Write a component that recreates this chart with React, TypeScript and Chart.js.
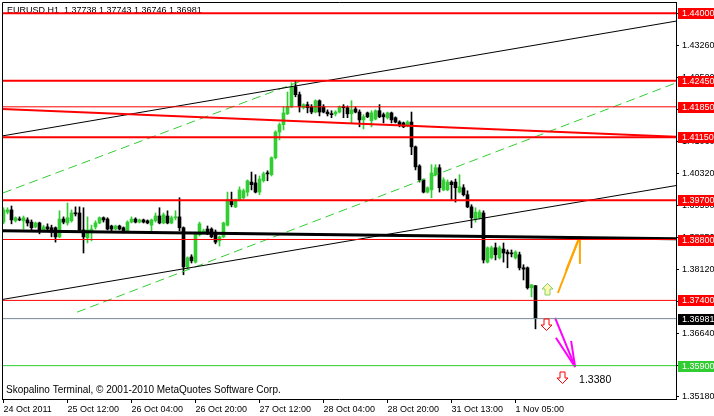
import React, { useEffect, useRef } from "react";
import { Chart, registerables } from "chart.js";
Chart.register(...registerables);

const symbolTitle = "EURUSD,H1  1.37738 1.37743 1.36746 1.36981";
const copyright = "Skopalino Terminal, \u00A9 2001-2010 MetaQuotes Software Corp.";

const xTickIndex = [0, 16, 32, 48, 64, 80, 96, 112, 128];
const xTickLabels = ["24 Oct 2011", "25 Oct 12:00", "26 Oct 04:00", "26 Oct 20:00", "27 Oct 12:00", "28 Oct 04:00", "28 Oct 20:00", "31 Oct 13:00", "1 Nov 05:00"];
const yTickLabels = ["1.35180", "1.35910", "1.36640", "1.37380", "1.38120", "1.38850", "1.39590", "1.40320", "1.41060", "1.41790", "1.42520", "1.43260", "1.43990"];

const opens = [
  1.3920, 1.3943, 1.3948, 1.3923, 1.3927, 1.3923, 1.3925, 1.3920, 1.3909, 1.3918,
  1.3902, 1.3909, 1.3907, 1.3907, 1.3886, 1.3927, 1.3918, 1.3923, 1.3941, 1.3941,
  1.3902, 1.3884, 1.3897, 1.3909, 1.3918, 1.3930, 1.3927, 1.3911, 1.3904, 1.3911,
  1.3907, 1.3900, 1.3920, 1.3927, 1.3920, 1.3925, 1.3923, 1.3913, 1.3923, 1.3934,
  1.3918, 1.3934, 1.3918, 1.3930, 1.3932, 1.3907, 1.3817, 1.3840, 1.3828, 1.3891,
  1.3895, 1.3904, 1.3904, 1.3897, 1.3877, 1.3886, 1.3913, 1.3971, 1.3955, 1.3971,
  1.3976, 1.3989, 1.4012, 1.4010, 1.3989, 1.4015, 1.4033, 1.4029, 1.4068, 1.4127,
  1.4144, 1.4169, 1.4185, 1.4231, 1.4213, 1.4183, 1.4190, 1.4185, 1.4173, 1.4199,
  1.4185, 1.4173, 1.4169, 1.4169, 1.4173, 1.4185, 1.4183, 1.4169, 1.4180, 1.4173,
  1.4155, 1.4171, 1.4153, 1.4157, 1.4176, 1.4167, 1.4160, 1.4171, 1.4160, 1.4150,
  1.4148, 1.4141, 1.4150, 1.4093, 1.4049, 1.4017, 1.3989, 1.3994, 1.4029, 1.4045,
  1.3994, 1.3994, 1.4012, 1.4012, 1.3989, 1.3999, 1.3983, 1.3955, 1.3927, 1.3930,
  1.3941, 1.3828, 1.3838, 1.3861, 1.3838, 1.3858, 1.3851, 1.3849, 1.3838, 1.3845,
  1.3815, 1.3815, 1.3769, 1.37738,
];
const highs = [
  1.3953, 1.3953, 1.3957, 1.3932, 1.3932, 1.3934, 1.3930, 1.3925, 1.3920, 1.3920,
  1.3913, 1.3916, 1.3913, 1.3909, 1.3946, 1.3932, 1.3964, 1.3948, 1.3955, 1.3955,
  1.3953, 1.3932, 1.3913, 1.3923, 1.3932, 1.3932, 1.3930, 1.3913, 1.3913, 1.3913,
  1.3909, 1.3923, 1.3932, 1.3930, 1.3927, 1.3927, 1.3925, 1.3927, 1.3941, 1.3953,
  1.3941, 1.3946, 1.3934, 1.3946, 1.3976, 1.3909, 1.3840, 1.3845, 1.3897, 1.3920,
  1.3904, 1.3911, 1.3907, 1.3902, 1.3888, 1.3920, 1.3989, 1.3989, 1.3973, 1.4001,
  1.3996, 1.4017, 1.4035, 1.4029, 1.4026, 1.4035, 1.4038, 1.4070, 1.4130, 1.4148,
  1.4185, 1.4219, 1.4240, 1.4245, 1.4219, 1.4192, 1.4196, 1.4190, 1.4201, 1.4201,
  1.4190, 1.4178, 1.4176, 1.4176, 1.4187, 1.4190, 1.4187, 1.4199, 1.4185, 1.4178,
  1.4167, 1.4173, 1.4176, 1.4178, 1.4190, 1.4171, 1.4173, 1.4173, 1.4162, 1.4153,
  1.4150, 1.4153, 1.4173, 1.4095, 1.4052, 1.4019, 1.4001, 1.4052, 1.4052, 1.4052,
  1.4022, 1.4017, 1.4015, 1.4019, 1.4029, 1.4006, 1.3992, 1.3960, 1.3953, 1.3948,
  1.3946, 1.3863, 1.3865, 1.3872, 1.3865, 1.3872, 1.3856, 1.3856, 1.3854, 1.3851,
  1.3822, 1.3817, 1.3776, 1.37743,
];
const lows = [
  1.3916, 1.3939, 1.3916, 1.3920, 1.3923, 1.3904, 1.3911, 1.3902, 1.3907, 1.3893,
  1.3900, 1.3900, 1.3886, 1.3874, 1.3884, 1.3916, 1.3913, 1.3920, 1.3934, 1.3900,
  1.3849, 1.3872, 1.3877, 1.3904, 1.3916, 1.3920, 1.3902, 1.3900, 1.3902, 1.3902,
  1.3895, 1.3897, 1.3918, 1.3918, 1.3918, 1.3918, 1.3916, 1.3897, 1.3920, 1.3916,
  1.3916, 1.3916, 1.3916, 1.3925, 1.3900, 1.3799, 1.3812, 1.3826, 1.3826, 1.3888,
  1.3893, 1.3891, 1.3884, 1.3870, 1.3865, 1.3884, 1.3911, 1.3955, 1.3953, 1.3969,
  1.3973, 1.3980, 1.3994, 1.3987, 1.3983, 1.4012, 1.4015, 1.4026, 1.4065, 1.4109,
  1.4132, 1.4167, 1.4183, 1.4208, 1.4173, 1.4180, 1.4171, 1.4169, 1.4171, 1.4164,
  1.4171, 1.4164, 1.4160, 1.4164, 1.4171, 1.4160, 1.4160, 1.4148, 1.4171, 1.4139,
  1.4134, 1.4160, 1.4139, 1.4155, 1.4160, 1.4148, 1.4157, 1.4148, 1.4148, 1.4139,
  1.4137, 1.4139, 1.4075, 1.4040, 1.4012, 1.3987, 1.3987, 1.3976, 1.4026, 1.3989,
  1.3992, 1.3992, 1.3971, 1.3966, 1.3987, 1.3980, 1.3953, 1.3907, 1.3920, 1.3927,
  1.3826, 1.3826, 1.3835, 1.3833, 1.3835, 1.3828, 1.3815, 1.3840, 1.3835, 1.3810,
  1.3787, 1.3766, 1.3748, 1.36746,
];
const closes = [
  1.3948, 1.3948, 1.3925, 1.3930, 1.3925, 1.3930, 1.3918, 1.3907, 1.3918, 1.3902,
  1.3909, 1.3904, 1.3897, 1.3886, 1.3927, 1.3920, 1.3930, 1.3941, 1.3939, 1.3902,
  1.3886, 1.3902, 1.3904, 1.3918, 1.3930, 1.3925, 1.3904, 1.3904, 1.3911, 1.3904,
  1.3897, 1.3920, 1.3927, 1.3920, 1.3925, 1.3920, 1.3918, 1.3925, 1.3934, 1.3918,
  1.3937, 1.3918, 1.3930, 1.3932, 1.3907, 1.3817, 1.3838, 1.3831, 1.3895, 1.3916,
  1.3900, 1.3897, 1.3886, 1.3874, 1.3886, 1.3918, 1.3971, 1.3960, 1.3971, 1.3994,
  1.3992, 1.4015, 1.4006, 1.3989, 1.4019, 1.4031, 1.4031, 1.4068, 1.4127, 1.4144,
  1.4171, 1.4185, 1.4231, 1.4213, 1.4185, 1.4190, 1.4183, 1.4173, 1.4199, 1.4173,
  1.4173, 1.4169, 1.4167, 1.4173, 1.4185, 1.4183, 1.4169, 1.4178, 1.4173, 1.4155,
  1.4162, 1.4162, 1.4171, 1.4176, 1.4162, 1.4162, 1.4171, 1.4155, 1.4150, 1.4144,
  1.4139, 1.4150, 1.4093, 1.4047, 1.4017, 1.3989, 1.3999, 1.4033, 1.4045, 1.3999,
  1.4017, 1.4012, 1.4006, 1.3999, 1.4001, 1.3983, 1.3955, 1.3930, 1.3943, 1.3943,
  1.3833, 1.3861, 1.3861, 1.3845, 1.3861, 1.3849, 1.3847, 1.3847, 1.3851, 1.3815,
  1.3812, 1.3769, 1.3776, 1.36981,
];

const redLevels = [1.44, 1.4245, 1.4185, 1.4115, 1.397, 1.388, 1.374];
const bidLevel = 1.36981;
const greenLevel = 1.359;

const redTrend = [[-0.375, 1.4180], [168.125, 1.4116]];
const channelUpper = [[-0.375, 1.4118], [168.125, 1.4382]];
const channelLower = [[-0.375, 1.3742], [168.125, 1.4004]];
const thickBlack = [[-0.375, 1.3900], [168.125, 1.3882]];
const greenUpper = [[-0.125, 1.3987], [74.9, 1.4246]];
const greenLower = [[18.4, 1.3713], [168.125, 1.4240]];
const orangeShaft = [[138.6, 1.3757], [144.1, 1.3888]];
const orangeHeadA = [[140.6, 1.3808], [144.1, 1.3888]];
const orangeHeadB = [[143.9, 1.3826], [144.1, 1.3888]];
const magentaShaft = [[137.9, 1.3700], [142.9, 1.3587]];
const magentaHeadA = [[138.1, 1.3654], [142.9, 1.3587]];
const magentaHeadB = [[141.9, 1.3647], [142.9, 1.3587]];
const upArrows = [[135.9, 1.3766]];
const downArrows = [[135.6, 1.3686], [139.6, 1.3564]];
const targetText = "1.3380";
const targetAt = [143.9, 1.3557];

const X_MIN = -0.375;
const X_MAX = 168.125;
const Y_MIN = 1.351334;
const Y_MAX = 1.442598;

const FONT = '"Liberation Sans", Arial, sans-serif';
const RED = "#FF0000";
const GREEN = "#32CD32";
const BID = "#778899";

function seg(pts: number[][], color: string, width: number, dash: number[] = []) {
  return {
    type: "line" as const,
    data: pts.map(([x, y]) => ({ x, y })),
    borderColor: color,
    backgroundColor: color,
    borderWidth: width,
    borderDash: dash,
    pointRadius: 0,
    fill: false,
    tension: 0,
    order: 0,
  };
}

function drawArrow(ctx: CanvasRenderingContext2D, cx: number, cy: number, up: boolean, stroke: string, fill: string) {
  const s = up ? 1 : -1;
  ctx.beginPath();
  ctx.moveTo(cx, cy - 6 * s);
  ctx.lineTo(cx + 5.5, cy - 0.5 * s);
  ctx.lineTo(cx + 2.5, cy - 0.5 * s);
  ctx.lineTo(cx + 2.5, cy + 5.5 * s);
  ctx.lineTo(cx - 2.5, cy + 5.5 * s);
  ctx.lineTo(cx - 2.5, cy - 0.5 * s);
  ctx.lineTo(cx - 5.5, cy - 0.5 * s);
  ctx.closePath();
  ctx.fillStyle = fill;
  ctx.fill();
  ctx.strokeStyle = stroke;
  ctx.lineWidth = 1;
  ctx.stroke();
}

const overlayPlugin = {
  id: "mtOverlay",
  beforeDatasetsDraw(chart: any) {
    const { ctx, chartArea } = chart;
    ctx.save();
    ctx.fillStyle = "#000";
    ctx.textBaseline = "alphabetic";
    ctx.font = `9px ${FONT}`;
    ctx.fillText(symbolTitle, chartArea.left + 5, chartArea.top + 11);
    ctx.font = `10px ${FONT}`;
    ctx.fillText(copyright, chartArea.left + 4, chartArea.bottom - 6);
    ctx.restore();
  },
  afterDraw(chart: any) {
    const { ctx, chartArea } = chart;
    const xs = chart.scales.x;
    const ys = chart.scales.y;
    ctx.save();
    ctx.strokeStyle = "#000";
    ctx.lineWidth = 1;
    ctx.beginPath();
    ctx.moveTo(chartArea.left + 0.5, chartArea.bottom);
    ctx.lineTo(chartArea.left + 0.5, chartArea.top + 0.5);
    ctx.lineTo(chartArea.right, chartArea.top + 0.5);
    ctx.stroke();
    upArrows.forEach(([i, p]) => drawArrow(ctx, Math.round(xs.getPixelForValue(i)) + 0.5, Math.round(ys.getPixelForValue(p)) + 0.5, true, "#7FD36A", "#FFF7B0"));
    downArrows.forEach(([i, p]) => drawArrow(ctx, Math.round(xs.getPixelForValue(i)) + 0.5, Math.round(ys.getPixelForValue(p)) + 0.5, false, RED, "#FFFFFF"));
    ctx.fillStyle = "#000";
    ctx.font = `10.5px ${FONT}`;
    ctx.textBaseline = "middle";
    ctx.fillText(targetText, xs.getPixelForValue(targetAt[0]), ys.getPixelForValue(targetAt[1]));
    const labels: [number, string][] = [
      ...redLevels.map((v) => [v, RED] as [number, string]),
      [bidLevel, "#000000"],
      [greenLevel, GREEN],
    ];
    ctx.font = `9px ${FONT}`;
    labels.forEach(([v, c]) => {
      const y = Math.round(ys.getPixelForValue(v));
      ctx.fillStyle = c;
      ctx.fillRect(chartArea.right + 2, y - 5, chart.width - chartArea.right - 2, 11);
      ctx.fillStyle = "#FFFFFF";
      ctx.textBaseline = "middle";
      ctx.fillText(v.toFixed(5), chartArea.right + 6, y + 0.5);
    });
    ctx.restore();
  },
};

export default function App() {
  const ref = useRef<HTMLCanvasElement>(null);
  useEffect(() => {
    const canvas = ref.current;
    if (!canvas) return;
    const colors = closes.map((c, i) => (c > opens[i] ? GREEN : "#000000"));
    const wickData = lows.map((l, i) => ({ x: i, y: [l, highs[i]] }));
    const bodyData = opens.map((o, i) => ({ x: i, y: [o, closes[i]] }));
    const hLine = (v: number) => [[X_MIN, v], [X_MAX, v]];
    const redWidths = [2, 2, 1, 2, 2, 1, 1];

    const datasets: any[] = [
      { type: "bar", data: wickData, backgroundColor: colors, barThickness: 1, grouped: false, borderWidth: 0, minBarLength: 1, order: 2 },
      { type: "bar", data: bodyData, backgroundColor: colors, barThickness: 3, grouped: false, borderWidth: 0, minBarLength: 1, order: 1 },
      ...redLevels.map((v, k) => seg(hLine(v), RED, redWidths[k])),
      seg(hLine(bidLevel), BID, 1),
      seg(hLine(greenLevel), GREEN, 1),
      seg(redTrend, RED, 2),
      seg(channelUpper, "#000000", 1),
      seg(channelLower, "#000000", 1),
      seg(thickBlack, "#000000", 3),
      seg(greenUpper, GREEN, 1, [9, 5]),
      seg(greenLower, GREEN, 1, [9, 5]),
      seg(orangeShaft, "#FFA500", 2),
      seg(orangeHeadA, "#FFA500", 2),
      seg(orangeHeadB, "#FFA500", 2),
      seg(magentaShaft, "#FF00FF", 2),
      seg(magentaHeadA, "#FF00FF", 2),
      seg(magentaHeadB, "#FF00FF", 2),
    ];

    const chart = new Chart(canvas, {
      type: "bar",
      data: { datasets },
      plugins: [overlayPlugin],
      options: {
        animation: false,
        responsive: false,
        devicePixelRatio: 1,
        events: [],
        layout: { padding: { top: 2, left: 2, right: 0, bottom: 0 } },
        plugins: { legend: { display: false }, tooltip: { enabled: false }, title: { display: false } },
        scales: {
          x: {
            type: "linear",
            min: X_MIN,
            max: X_MAX,
            offset: false,
            afterBuildTicks: (s: any) => {
              s.ticks = xTickIndex.map((v) => ({ value: v }));
            },
            afterFit: (s: any) => {
              s.height = 17;
              s.paddingLeft = 0;
              s.paddingRight = 0;
            },
            ticks: {
              callback: (_v: any, i: number) => xTickLabels[i],
              align: "start",
              maxRotation: 0,
              minRotation: 0,
              autoSkip: false,
              padding: 1,
              color: "#000",
              font: { family: FONT, size: 9 },
            },
            grid: { drawOnChartArea: false, drawTicks: true, tickLength: 4, color: "#000", offset: false },
            border: { display: true, color: "#000", width: 1 },
          },
          y: {
            type: "linear",
            position: "right",
            min: Y_MIN,
            max: Y_MAX,
            afterBuildTicks: (s: any) => {
              s.ticks = yTickLabels.map((t) => ({ value: parseFloat(t) }));
            },
            afterFit: (s: any) => {
              s.width = 38;
              s.paddingTop = 0;
              s.paddingBottom = 0;
            },
            ticks: {
              callback: (_v: any, i: number) => yTickLabels[i],
              autoSkip: false,
              padding: 3,
              color: "#000",
              font: { family: FONT, size: 9 },
            },
            grid: { drawOnChartArea: false, drawTicks: true, tickLength: 3, color: "#000" },
            border: { display: true, color: "#000", width: 1 },
          },
        },
      } as any,
    });
    return () => chart.destroy();
  }, []);

  return (
    <div style={{ position: "absolute", left: 0, top: 0, width: 714, height: 416, background: "#fff" }}>
      <canvas ref={ref} width={714} height={416} style={{ display: "block", width: 714, height: 416 }} />
    </div>
  );
}
